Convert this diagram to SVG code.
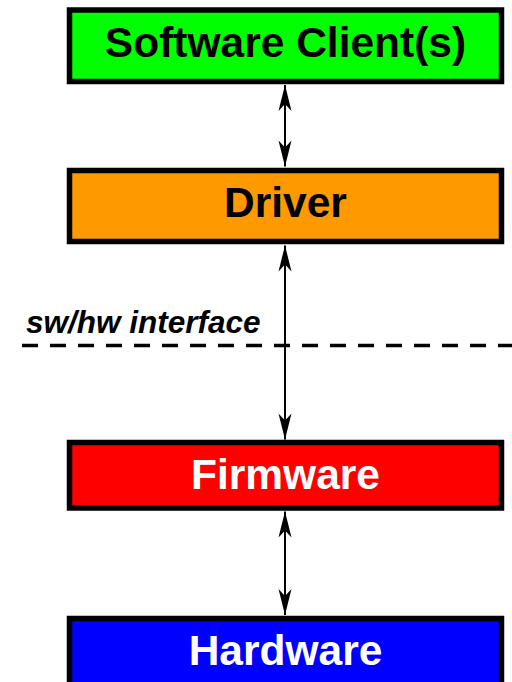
<svg xmlns="http://www.w3.org/2000/svg" width="512" height="682" viewBox="0 0 512 682">
  <style>
    .box { stroke: #000; stroke-width: 5.5; }
    .lbl { font-family: "Liberation Sans", Arial, sans-serif; font-weight: bold; font-size: 42.5px; text-anchor: middle; }
    .conn { stroke: #000; stroke-width: 2; fill: none; marker-start: url(#ah); marker-end: url(#ah); }
    .iface { font-family: "Liberation Sans", Arial, sans-serif; font-weight: bold; font-style: italic; font-size: 31.5px; }
  </style>
  <defs>
    <marker id="ah" markerUnits="userSpaceOnUse" markerWidth="30" markerHeight="30" refX="0" refY="0" orient="auto-start-reverse" style="overflow:visible">
      <path d="M0,0 L-26,-6.5 L-19,0 L-26,6.5 Z" fill="#000"/>
    </marker>
  </defs>
  <rect width="512" height="682" fill="#fff"/>
  <g id="interface">
    <line x1="22" y1="345.5" x2="512" y2="345.5" stroke="#000" stroke-width="3.5" stroke-dasharray="16 12"/>
    <text class="iface" x="26" y="333">sw/hw interface</text>
  </g>
  <g id="connectors">
    <line class="conn" x1="285" y1="85" x2="285" y2="166.5"/>
    <line class="conn" x1="285" y1="245.5" x2="285" y2="439.5"/>
    <line class="conn" x1="285" y1="511.5" x2="285" y2="615"/>
  </g>
  <g id="software-clients">
    <rect class="box" x="69.5" y="10" width="432" height="71.5" fill="#00ff00"/>
    <text class="lbl" x="285.5" y="57" fill="#000">Software Client(s)</text>
  </g>
  <g id="driver">
    <rect class="box" x="69.5" y="170.5" width="432" height="71" fill="#ff9900"/>
    <text class="lbl" x="285.5" y="216.5" fill="#000">Driver</text>
  </g>
  <g id="firmware">
    <rect class="box" x="69.5" y="442.5" width="432" height="65.5" fill="#ff0000"/>
    <text class="lbl" x="285.5" y="488.5" fill="#fff">Firmware</text>
  </g>
  <g id="hardware">
    <rect class="box" x="69.5" y="618.5" width="432" height="80" fill="#0000ff"/>
    <text class="lbl" x="285.5" y="664.5" fill="#fff">Hardware</text>
  </g>
</svg>
